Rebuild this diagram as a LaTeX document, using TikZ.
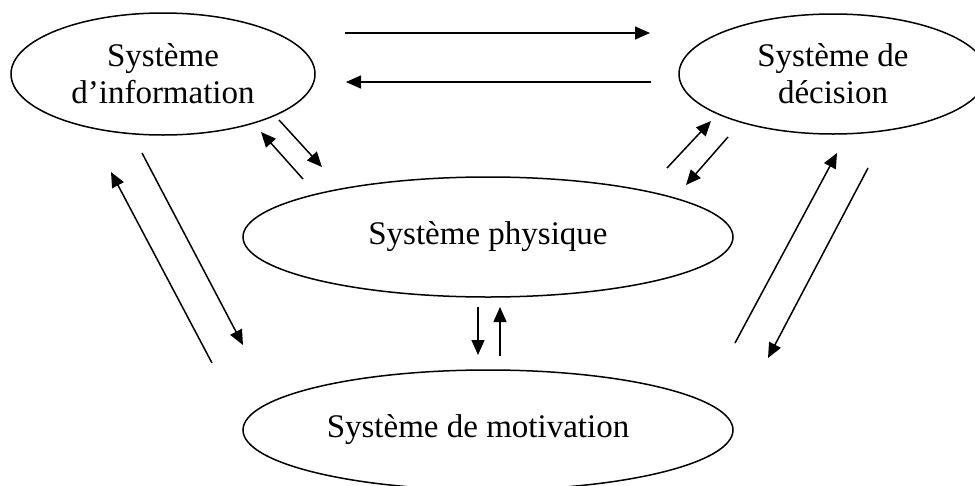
\documentclass[tikz,border=0pt]{standalone}
\usepackage{fontspec}
\setmainfont{Liberation Serif}
\usetikzlibrary{shapes.geometric,arrows.meta}
\begin{document}
\begin{tikzpicture}[x=1pt,y=-1pt,
  sys/.style={draw=black, line width=1.5pt, ellipse, inner sep=0pt, align=center,
    font=\fontsize{33}{37}\selectfont},
  flow/.style={line width=1.5pt, -{Triangle[length=15pt,width=13pt]}}]
\clip (0,0) rectangle (975,485);
\fill[white] (0,0) rectangle (975,485);
\node[sys, minimum width=304pt, minimum height=122pt] (info) at (163,74) {Système\\d’information};
\node[sys, minimum width=308pt, minimum height=120pt] (dec) at (833,74) {Système de\\décision};
\node[sys, minimum width=490pt, minimum height=120pt] (phys) at (488,237) {Système physique};
\node[sys, minimum width=490pt, minimum height=120pt] (mot) at (488,430) {};
\node[font=\fontsize{33}{37}\selectfont] (motl) at (478,430) {Système de motivation};
% arrow end points
\coordinate (a1) at (345,33);  \coordinate (b1) at (650,33);
\coordinate (a2) at (651,82);  \coordinate (b2) at (346,82);
\coordinate (a3) at (303,179); \coordinate (b3) at (261,132);
\coordinate (a4) at (279,120); \coordinate (b4) at (322,167);
\coordinate (a5) at (667,168); \coordinate (b5) at (711,121);
\coordinate (a6) at (728,137); \coordinate (b6) at (686,185);
\coordinate (a7) at (478,307); \coordinate (b7) at (478,355);
\coordinate (a8) at (500,356); \coordinate (b8) at (500,307);
\coordinate (a9) at (212,363); \coordinate (b9) at (111,172);
\coordinate (a10) at (142,153); \coordinate (b10) at (243,345);
\coordinate (a11) at (735,343); \coordinate (b11) at (837,153);
\coordinate (a12) at (868,168); \coordinate (b12) at (768,358);
\foreach \i in {1,...,12} {\draw[flow] (a\i) -- (b\i);}
\end{tikzpicture}
\end{document}
